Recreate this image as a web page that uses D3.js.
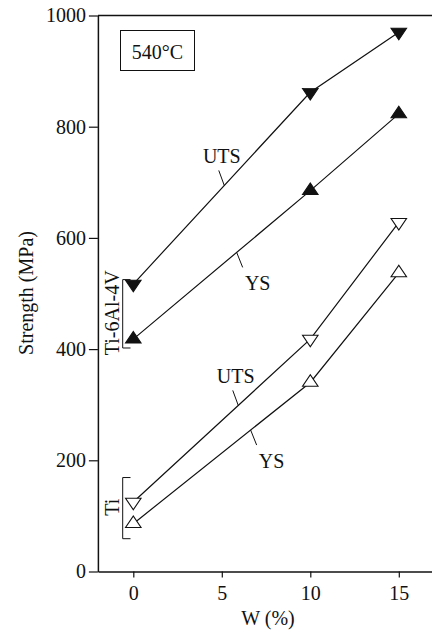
<!DOCTYPE html>
<html>
<head>
<meta charset="utf-8">
<script src="https://cdn.jsdelivr.net/npm/d3@7"></script>
<style>
  html, body { margin: 0; padding: 0; background: #fff; }
  svg { display: block; }
  text { font-family: "Liberation Serif", "Times New Roman", serif; fill: #111; }
</style>
</head>
<body>
<svg id="chart" width="432" height="632"></svg>
<script>
// Tungsten content (W, %) of each alloy sample
const wContent = [0, 10, 15];

// Strength at 540°C, MPa
const ti64UTS = [517, 862, 970];
const ti64YS  = [418, 685, 823];
const tiUTS   = [125, 418, 628];
const tiYS    = [86, 340, 537];

const yTicks = [0, 200, 400, 600, 800, 1000];
const xTicks = [0, 5, 10, 15];

// Series definitions: marker shape and fill
const series = [
  { name: "Ti-6Al-4V UTS", values: ti64UTS, down: true,  filled: true },
  { name: "Ti-6Al-4V YS",  values: ti64YS,  down: false, filled: true },
  { name: "Ti UTS",        values: tiUTS,   down: true,  filled: false },
  { name: "Ti YS",         values: tiYS,    down: false, filled: false }
];

// Curve labels: series index, W value where the leader meets the curve
const curveLabels = [
  { text: "UTS", s: 0, at: 5.14, above: true },
  { text: "YS",  s: 1, at: 5.84, above: false },
  { text: "UTS", s: 2, at: 5.93, above: true },
  { text: "YS",  s: 3, at: 6.63, above: false }
];

// Material brackets at W = 0 (strength range, MPa)
const brackets = [
  { text: "Ti-6Al-4V", range: [402, 525] },
  { text: "Ti",        range: [59, 169] }
];

const svg = d3.select("#chart");

const x = d3.scaleLinear().domain([-2, 17]).range([97.9, 434.2]);
const y = d3.scaleLinear().domain([0, 1000]).range([571.5, 15.5]);

// Axes
const yAxis = d3.axisLeft(y).tickValues(yTicks).tickFormat(d3.format("d"))
  .tickSize(9).tickSizeOuter(0).tickPadding(3);
const gy = svg.append("g").attr("transform", `translate(${x(-2)},0)`).call(yAxis);
gy.selectAll("text").attr("font-size", 20).attr("font-family", "Liberation Serif").attr("fill", "#111");

const xAxis = d3.axisBottom(x).tickValues(xTicks).tickFormat(d3.format("d"))
  .tickSize(6).tickSizeOuter(0).tickPadding(8);
const gx = svg.append("g").attr("transform", `translate(0,${y(0)})`).call(xAxis);
gx.selectAll("text").attr("font-size", 20).attr("font-family", "Liberation Serif").attr("fill", "#111");

svg.selectAll(".domain").attr("stroke", "#111").attr("stroke-width", 1.5);
svg.selectAll(".tick line").attr("stroke", "#111").attr("stroke-width", 1.2);

// Top frame line
svg.append("line")
  .attr("x1", x(-2)).attr("x2", x(17))
  .attr("y1", y(1000)).attr("y2", y(1000))
  .attr("stroke", "#111").attr("stroke-width", 1.5);

// Axis titles
svg.append("text")
  .attr("transform", `translate(33,293) rotate(-90)`)
  .attr("text-anchor", "middle").attr("font-size", 20)
  .text("Strength (MPa)");

svg.append("text")
  .attr("x", 268).attr("y", 625)
  .attr("text-anchor", "middle").attr("font-size", 20)
  .text("W (%)");

// Temperature box
const box = svg.append("g");
box.append("rect")
  .attr("x", 120.5).attr("y", 30.5).attr("width", 74).attr("height", 40)
  .attr("fill", "none").attr("stroke", "#111").attr("stroke-width", 1);
box.append("text")
  .attr("x", 157.5).attr("y", 59).attr("text-anchor", "middle").attr("font-size", 20)
  .text("540°C");

// Lines
const line = d3.line().x((d, i) => x(wContent[i])).y(d => y(d));
svg.append("g").selectAll("path")
  .data(series).join("path")
  .attr("d", d => line(d.values))
  .attr("fill", "none").attr("stroke", "#111").attr("stroke-width", 1.2);

// Triangle markers
const tri = d3.symbol().type(d3.symbolTriangle).size(95);
series.forEach(s => {
  svg.append("g").selectAll("path")
    .data(s.values).join("path")
    .attr("d", tri)
    .attr("transform", (d, i) => `translate(${x(wContent[i])},${y(d)}) scale(1.05,0.9) rotate(${s.down ? 180 : 0})`)
    .attr("fill", s.filled ? "#111" : "#fff")
    .attr("stroke", "#111").attr("stroke-width", 1.1);
});

// Curve labels with leader lines
function valueAt(vals, w) {
  const i = w <= wContent[1] ? 0 : 1;
  const t = (w - wContent[i]) / (wContent[i + 1] - wContent[i]);
  return vals[i] + t * (vals[i + 1] - vals[i]);
}
curveLabels.forEach(c => {
  const px = x(c.at), py = y(valueAt(series[c.s].values, c.at));
  if (c.above) {
    svg.append("line")
      .attr("x1", px).attr("y1", py).attr("x2", px - 5.5).attr("y2", py - 15)
      .attr("stroke", "#111").attr("stroke-width", 1);
    svg.append("text")
      .attr("x", px - 2.5).attr("y", py - 22).attr("text-anchor", "middle").attr("font-size", 20)
      .text(c.text);
  } else {
    svg.append("line")
      .attr("x1", px).attr("y1", py).attr("x2", px + 6).attr("y2", py + 15)
      .attr("stroke", "#111").attr("stroke-width", 1);
    svg.append("text")
      .attr("x", px + 21).attr("y", py + 38).attr("text-anchor", "middle").attr("font-size", 20)
      .text(c.text);
  }
});

// Material brackets
brackets.forEach(b => {
  const y0 = y(b.range[1]), y1 = y(b.range[0]);
  const bx = 122.7, tx = 130.5;
  svg.append("path")
    .attr("d", `M${tx},${y0}H${bx}V${y1}H${tx}`)
    .attr("fill", "none").attr("stroke", "#111").attr("stroke-width", 1);
  svg.append("text")
    .attr("transform", `translate(119,${(y0 + y1) / 2 - 1}) rotate(-90)`)
    .attr("text-anchor", "middle").attr("font-size", 20)
    .text(b.text);
});
</script>
</body>
</html>
